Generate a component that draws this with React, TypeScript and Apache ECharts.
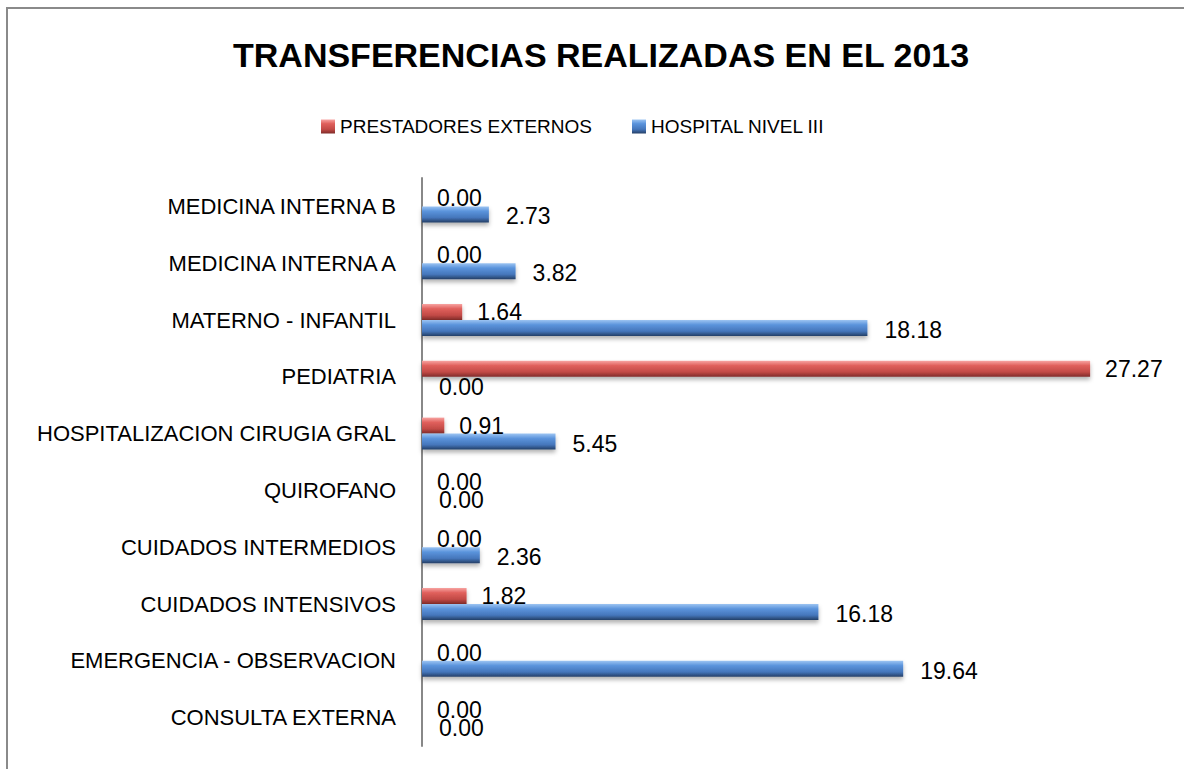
import React, { useEffect, useRef } from "react";
import * as echarts from "echarts";

const categories = [
  "MEDICINA INTERNA B",
  "MEDICINA INTERNA A",
  "MATERNO - INFANTIL",
  "PEDIATRIA",
  "HOSPITALIZACION CIRUGIA GRAL",
  "QUIROFANO",
  "CUIDADOS INTERMEDIOS",
  "CUIDADOS INTENSIVOS",
  "EMERGENCIA - OBSERVACION",
  "CONSULTA EXTERNA",
];
const prestadoresExternos = [0, 0, 1.64, 27.27, 0.91, 0, 0, 1.82, 0, 0];
const hospitalNivelIII = [2.73, 3.82, 18.18, 0, 5.45, 0, 2.36, 16.18, 19.64, 0];
const seriesNames = ["PRESTADORES EXTERNOS", "HOSPITAL NIVEL III"];
const chartTitle = "TRANSFERENCIAS REALIZADAS EN EL 2013";

const FONT = "'Liberation Sans', Arial, sans-serif";

const redGrad = new echarts.graphic.LinearGradient(0, 0, 0, 1, [
  { offset: 0, color: "#f7a3a1" },
  { offset: 0.3, color: "#e0605c" },
  { offset: 0.7, color: "#c24a46" },
  { offset: 1, color: "#7f2b29" },
]);
const blueGrad = new echarts.graphic.LinearGradient(0, 0, 0, 1, [
  { offset: 0, color: "#9cc4f2" },
  { offset: 0.3, color: "#5b94dc" },
  { offset: 0.7, color: "#4576bb" },
  { offset: 1, color: "#243f66" },
]);

export default function App() {
  const ref = useRef<HTMLDivElement>(null);
  useEffect(() => {
    if (!ref.current) return;
    const chart = echarts.init(ref.current, null, { renderer: "svg" });
    const labelCommon = {
      show: true,
      position: "right",
      distance: 15,
      color: "#000",
      fontSize: 23,
      fontFamily: FONT,
      formatter: (p: any) => Number(p.value).toFixed(2),
    };
    chart.setOption({
      animation: false,
      backgroundColor: "#ffffff",
      graphic: [
        {
          type: "rect",
          shape: { x: 7, y: 8, width: 1200, height: 800 },
          style: { fill: "none", stroke: "#8a8a8a", lineWidth: 2 },
        },
      ],
      title: {
        text: chartTitle,
        left: 228,
        top: 33,
        textStyle: { fontSize: 34, fontWeight: "bold", color: "#000", fontFamily: FONT },
      },
      legend: {
        data: seriesNames,
        left: 316,
        top: 112,
        itemWidth: 14,
        itemHeight: 14,
        itemGap: 40,
        icon: "rect",
        textStyle: { fontSize: 19, color: "#000", fontFamily: FONT },
      },
      grid: { left: 422, top: 178, width: 735, height: 568, containLabel: false },
      xAxis: {
        type: "value",
        min: 0,
        max: 30,
        show: false,
        splitLine: { show: false },
      },
      yAxis: {
        type: "category",
        data: categories,
        inverse: true,
        axisLine: { show: true, lineStyle: { color: "#888888", width: 2 } },
        axisTick: { show: false },
        axisLabel: { fontSize: 22, color: "#000", fontFamily: FONT, margin: 26 },
      },
      series: [
        {
          name: seriesNames[0],
          type: "bar",
          data: prestadoresExternos,
          barWidth: 16,
          barGap: "0%",
          itemStyle: {
            color: redGrad,
            shadowColor: "rgba(0,0,0,0.3)",
            shadowBlur: 4,
            shadowOffsetY: 3,
          },
          label: { ...labelCommon, offset: [0, 0] },
        },
        {
          name: seriesNames[1],
          type: "bar",
          data: hospitalNivelIII,
          barWidth: 16,
          barGap: "0%",
          itemStyle: {
            color: blueGrad,
            shadowColor: "rgba(0,0,0,0.3)",
            shadowBlur: 4,
            shadowOffsetY: 3,
          },
          label: { ...labelCommon, offset: [2, 2] },
        },
      ],
    });
    return () => chart.dispose();
  }, []);
  return (
    <div
      ref={ref}
      style={{ position: "fixed", left: 0, top: 0, width: 1184, height: 769 }}
    />
  );
}
